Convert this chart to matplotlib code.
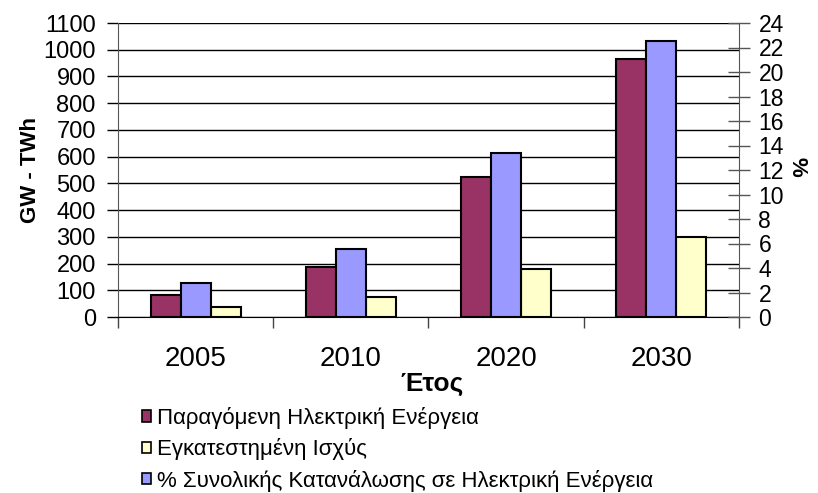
import matplotlib
matplotlib.use("Agg")
import matplotlib.pyplot as plt
from matplotlib.patches import Patch
import numpy as np

plt.rcParams['font.family'] = ['Liberation Sans', 'DejaVu Sans']

years = ['2005', '2010', '2020', '2030']
produced_twh = [82, 188, 524, 964]          # Παραγόμενη Ηλεκτρική Ενέργεια (left axis)
installed_gw = [37, 75, 180, 298]           # Εγκατεστημένη Ισχύς (left axis)
share_pct = [2.8, 5.55, 13.35, 22.5]        # % Συνολικής Κατανάλωσης (right axis)

labels = ['Παραγόμενη Ηλεκτρική Ενέργεια',
          'Εγκατεστημένη Ισχύς',
          '% Συνολικής Κατανάλωσης σε Ηλεκτρική Ενέργεια']
c_prod = '#993366'
c_inst = '#FFFFCC'
c_pct = '#9999FF'

W, H = 818, 493
fig = plt.figure(figsize=(W / 100, H / 100), dpi=100)
left, right, top, bottom = 118, 739, 23, 317
ax = fig.add_axes([left / W, 1 - bottom / H, (right - left) / W, (bottom - top) / H])
ax2 = ax.twinx()

x = np.arange(len(years))
bw = 0.193
ax.bar(x - bw, produced_twh, width=bw, color=c_prod, edgecolor='black', linewidth=1.5, zorder=3)
ax.bar(x + bw, installed_gw, width=bw, color=c_inst, edgecolor='black', linewidth=1.5, zorder=3)
ax2.bar(x, share_pct, width=bw, color=c_pct, edgecolor='black', linewidth=1.5, zorder=3)

ax.set_xlim(-0.5, len(years) - 0.5)
ax.set_ylim(0, 1100)
ax.set_yticks(np.arange(0, 1101, 100))
ax2.set_ylim(0, 24)
ax2.set_yticks(np.arange(0, 25, 2))

ax.yaxis.grid(True, color='black', linewidth=1.0, zorder=0)
ax.set_axisbelow(True)

ax.set_xticks(x)
ax.set_xticklabels(years)
ax.set_xticks(np.arange(-0.5, len(years), 1.0), minor=True)
ax.tick_params(axis='x', which='major', length=0, pad=21, labelsize=20)
ax.tick_params(axis='x', which='minor', length=8, width=1, color='#444444', direction='out')
ax.tick_params(axis='y', length=8, width=1, labelsize=17, pad=8, color='black')
ax2.tick_params(axis='y', direction='inout', length=16, width=1, labelsize=16.5, pad=6, color='#555555')

for sp in ['top', 'right']:
    ax.spines[sp].set_visible(False)
for sp in ['top', 'left', 'bottom']:
    ax2.spines[sp].set_visible(False)
ax.spines['left'].set_color('#555555')
ax.spines['bottom'].set_color('black')
ax2.spines['right'].set_color('#555555')

fig.text(31 / W, 1 - 170 / H, 'GW - TWh', rotation=90, fontsize=16, fontweight='bold',
         ha='center', va='center')
fig.text(797 / W, 1 - 167 / H, '%', rotation=-90, fontsize=16, fontweight='bold',
         ha='center', va='center')
fig.text(432 / W, 1 - 391 / H, 'Έτος', fontsize=19, fontweight='bold',
         ha='center', va='baseline')

handles = [Patch(facecolor=c, edgecolor='black', linewidth=1.2) for c in (c_prod, c_inst, c_pct)]
fig.legend(handles, labels, loc='upper left', bbox_to_anchor=(142 / W, 1 - 407 / H),
           frameon=False, fontsize=16, handlelength=0.42, handleheight=0.42,
           handletextpad=0.25, labelspacing=0.42, borderpad=0, borderaxespad=0)

fig.savefig('out.png', dpi=100)
